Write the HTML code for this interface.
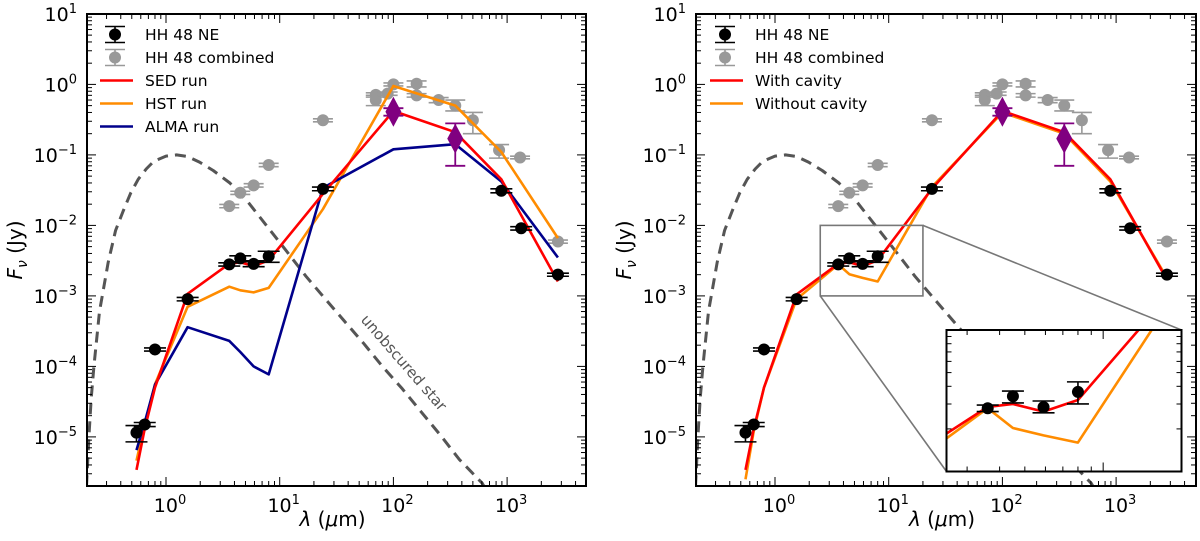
<!DOCTYPE html>
<html><head><meta charset="utf-8"><style>
html,body{margin:0;padding:0;background:#fff;width:1200px;height:541px;overflow:hidden;}
svg{display:block;font-family:"DejaVu Sans","Liberation Sans",sans-serif;overflow:hidden;}
</style></head><body>
<svg id="fig" width="1200" height="541" viewBox="0 0 1200 541" xmlns="http://www.w3.org/2000/svg"></svg>
<script>
// ---- data ----
const neLam=[0.55,0.65,0.8,1.55,3.6,4.5,5.9,8.0,24,890,1330,2800];
const neF=[1.15e-5,1.5e-5,1.74e-4,9e-4,2.8e-3,3.4e-3,2.85e-3,3.65e-3,0.033,0.031,0.0091,0.002];
const neLo=[8.5e-6,1.4e-5,1.65e-4,8.5e-4,2.65e-3,3.05e-3,2.6e-3,3.0e-3,0.031,0.029,0.0086,0.0019];
const neHi=[1.45e-5,1.6e-5,1.83e-4,9.5e-4,2.95e-3,3.7e-3,3.15e-3,4.3e-3,0.035,0.033,0.0096,0.0021];
const grLam=[3.6,4.5,5.9,8.0,24,70,70,89,100,160,160,250,350,500,850,1300,2800];
const grF=[0.0188,0.029,0.037,0.072,0.31,0.71,0.6,0.74,1.0,1.02,0.7,0.6,0.5,0.31,0.117,0.092,0.0059];
const grLo=[0.0178,0.0275,0.035,0.068,0.295,0.66,0.5,0.70,0.95,0.92,0.66,0.55,0.42,0.2,0.09,0.088,0.0056];
const grHi=[0.0198,0.0305,0.039,0.076,0.325,0.76,0.7,0.78,1.05,1.12,0.74,0.65,0.6,0.4,0.14,0.096,0.0062];
const puLam=[100,350];
const puF=[0.41,0.17];
const puLo=[0.36,0.07];
const puHi=[0.46,0.28];
const modLam=[0.55,0.65,0.8,1.55,3.6,4.5,5.9,8,24,100,350,890,2800];
const sedRun=[3.4e-6,1.3e-5,5e-5,1.07e-3,2.86e-3,3.0e-3,2.65e-3,3.2e-3,0.028,0.42,0.21,0.045,1.6e-3];
const hstRun=[4.6e-6,1.5e-5,5.6e-5,7e-4,1.35e-3,1.2e-3,1.12e-3,1.3e-3,0.017,0.95,0.5,0.11,0.0066];
const almaRun=[6.5e-6,1.6e-5,5.5e-5,3.6e-4,2.3e-4,1.6e-4,1.0e-4,7.7e-5,0.034,0.12,0.142,0.042,3.5e-3];
const withCav=[3.4e-6,1.3e-5,5e-5,1.05e-3,2.86e-3,3.0e-3,2.65e-3,3.2e-3,0.033,0.42,0.21,0.045,1.7e-3];
const withoutCav=[2.5e-6,1.2e-5,5e-5,9e-4,2.8e-3,2.03e-3,1.8e-3,1.6e-3,0.035,0.40,0.2,0.042,1.8e-3];
const starLam=[0.2,0.21,0.22,0.232,0.26,0.31,0.36,0.42,0.49,0.57,0.67,0.78,1.0,1.24,1.55,1.97,2.6,3.65,5.2,7.9,11.5,17,25,37,55,80,120,174,260,380,605,1000];
const starF=[2e-6,1e-5,3.5e-5,1e-4,6e-4,3e-3,8.5e-3,0.016,0.029,0.045,0.063,0.081,0.096,0.1,0.095,0.079,0.06,0.04,0.022,9.3e-3,4.3e-3,1.9e-3,9.2e-4,4.4e-4,2.1e-4,1e-4,4.8e-5,2.3e-5,1.05e-5,4.8e-6,2.2e-6,5e-7];
const xTickExp=[0,1,2,3];
const yTickExp=[-5,-4,-3,-2,-1,0,1];

const NS="http://www.w3.org/2000/svg";
const svg=document.getElementById('fig');
function mk(tag,attrs,parent){const e=document.createElementNS(NS,tag);for(const k in attrs)e.setAttribute(k,attrs[k]);(parent||svg).appendChild(e);return e;}

const Y0=84.4, YD=70.5, TOP=14, BOT=486;
function yS(v){return Y0-Math.log10(v)*YD;}

function drawErr(g,sx,sy,lam,f,lo,hi,color,r,cap,name){
  for(let i=0;i<lam.length;i++){
    const x=sx(lam[i]);
    const eg=mk('g',{},g);
    
    
    mk('line',{x1:x,x2:x,y1:sy(lo[i]),y2:sy(hi[i]),stroke:color,'stroke-width':1.6},eg);
    mk('line',{x1:x-cap,x2:x+cap,y1:sy(lo[i]),y2:sy(lo[i]),stroke:color,'stroke-width':1.6},eg);
    mk('line',{x1:x-cap,x2:x+cap,y1:sy(hi[i]),y2:sy(hi[i]),stroke:color,'stroke-width':1.6},eg);
    mk('circle',{cx:x,cy:sy(f[i]),r:r,fill:color},eg);
  }
}
function drawLine(g,sx,sy,lam,f,color,w,dash,name){
  const d=lam.map((l,i)=>(i?'L':'M')+sx(l).toFixed(1)+','+sy(f[i]).toFixed(1)).join('');
  const p=mk('path',{d:d,fill:'none',stroke:color,'stroke-width':w,'stroke-linejoin':'round'},g);
  if(dash)p.setAttribute('stroke-dasharray',dash);
  
  
}
function expLabel(parent,x,y,exp,anchor,name){
  const t=mk('text',{x:x,y:y,'font-size':19,'text-anchor':anchor,fill:'#000'},parent);
  
  
  t.appendChild(document.createTextNode('10'));
  const s=mk('tspan',{dy:-8,'font-size':13},t);
  s.textContent=(exp<0?'\u2212':'')+Math.abs(exp);
}

function panel(pid,X0,X1,XC,models,legend,legX,starLabel){
  const XD=113.7;
  const sx=v=>XC+Math.log10(v)*XD;
  const g=mk('g',{});
  
  
  mk('clipPath',{id:'clip-'+pid},g).appendChild(document.createElementNS(NS,'rect'));
  const cr=g.querySelector('clipPath rect');cr.setAttribute('x',X0);cr.setAttribute('y',TOP);cr.setAttribute('width',X1-X0);cr.setAttribute('height',BOT-TOP);
  const pg=mk('g',{'clip-path':'url(#clip-'+pid+')'},g);
  drawLine(pg,sx,yS,starLam,starF,'#555',3,'11,7','unobscured-star-curve');
  drawErr(pg,sx,yS,grLam,grF,grLo,grHi,'#999',6,10,'hh48-combined');
  models.forEach(m=>drawLine(pg,sx,yS,modLam,m.data,m.color,2.6,null,m.name));
  drawErr(pg,sx,yS,neLam,neF,neLo,neHi,'#000',6,11,'hh48-ne');
  for(let i=0;i<puLam.length;i++){
    const x=sx(puLam[i]),y=yS(puF[i]);
    const eg=mk('g',{},pg);
    
    
    mk('line',{x1:x,x2:x,y1:yS(puLo[i]),y2:yS(puHi[i]),stroke:'#800080','stroke-width':1.8},eg);
    [puLo[i],puHi[i]].forEach(v=>mk('line',{x1:x-10,x2:x+10,y1:yS(v),y2:yS(v),stroke:'#800080','stroke-width':1.8},eg));
    mk('path',{d:`M${x},${y-15}L${x+8},${y}L${x},${y+15}L${x-8},${y}Z`,fill:'#800080'},eg);
  }
  const fr=mk('rect',{x:X0,y:TOP,width:X1-X0,height:BOT-TOP,fill:'none',stroke:'#000','stroke-width':2},g);
  
  
  const tk=mk('g',{stroke:'#000','stroke-width':1},g);
  for(let e=-1;e<=3;e++)for(let m=1;m<10;m++){
    const x=sx(m*Math.pow(10,e)); if(x<X0+1||x>X1-1)continue;
    const L=m===1?9:5;
    mk('line',{x1:x,x2:x,y1:BOT,y2:BOT-L},tk);mk('line',{x1:x,x2:x,y1:TOP,y2:TOP+L},tk);
  }
  for(let e=-6;e<=0;e++)for(let m=1;m<10;m++){
    const y=yS(m*Math.pow(10,e)); if(y<TOP+1||y>BOT-1)continue;
    const L=m===1?9:5;
    mk('line',{x1:X0,x2:X0+L,y1:y,y2:y},tk);mk('line',{x1:X1,x2:X1-L,y1:y,y2:y},tk);
  }
  xTickExp.forEach(e=>expLabel(g,sx(Math.pow(10,e))+4,BOT+26,e,'middle','x-tick-label'));
  yTickExp.forEach(e=>expLabel(g,X0-10,yS(Math.pow(10,e))+7,e,'end','y-tick-label'));
  const xl=mk('text',{x:(X0+X1)/2-4,y:526,'font-size':20,'text-anchor':'middle'},g);
  
  xl.innerHTML='<tspan font-style="italic">λ</tspan> (<tspan font-style="italic">μ</tspan>m)';
  const yl=mk('text',{x:0,y:0,'font-size':20,'text-anchor':'middle',transform:`translate(${X0-65},250) rotate(-90)`},g);
  
  yl.innerHTML='<tspan font-style="italic">F</tspan><tspan font-style="italic" font-size="14" dy="5">ν</tspan><tspan dy="-5"> (Jy)</tspan>';
  if(starLabel){
    const sl=mk('text',{x:0,y:0,'font-size':15,fill:'#555','text-anchor':'middle',transform:`translate(400,366) rotate(49)`},g);
    
    sl.textContent='unobscured star';
  }
  const lg=mk('g',{},g);
  
  legend.forEach((it,i)=>{
    const y=34.5+i*23;
    const eg=mk('g',{},lg);
    
    
    const mx=legX+15;
    if(it.type==='pt'){
      mk('line',{x1:mx,x2:mx,y1:y-8,y2:y+8,stroke:it.color,'stroke-width':1.6},eg);
      mk('line',{x1:mx-10,x2:mx+10,y1:y-8,y2:y-8,stroke:it.color,'stroke-width':1.6},eg);
      mk('line',{x1:mx-10,x2:mx+10,y1:y+8,y2:y+8,stroke:it.color,'stroke-width':1.6},eg);
      mk('circle',{cx:mx,cy:y,r:6,fill:it.color},eg);
    } else {
      mk('line',{x1:legX,x2:legX+33,y1:y,y2:y,stroke:it.color,'stroke-width':2.6},eg);
    }
    const t=mk('text',{x:legX+45,y:y+5.5,'font-size':15.5},eg);
    t.textContent=it.label;
  });
  return {sx};
}

panel('left-panel',87,586,166,
  [{data:hstRun,color:'#ff8c00',name:'hst-run-line'},{data:almaRun,color:'#00008b',name:'alma-run-line'},{data:sedRun,color:'#ff0000',name:'sed-run-line'}],
  [{type:'pt',color:'#000',label:'HH 48 NE'},{type:'pt',color:'#999',label:'HH 48 combined'},{type:'ln',color:'#ff0000',label:'SED run'},{type:'ln',color:'#ff8c00',label:'HST run'},{type:'ln',color:'#00008b',label:'ALMA run'}],100,true);

const R=panel('right-panel',696,1196,775,
  [{data:withoutCav,color:'#ff8c00',name:'without-cavity-line'},{data:withCav,color:'#ff0000',name:'with-cavity-line'}],
  [{type:'pt',color:'#000',label:'HH 48 NE'},{type:'pt',color:'#999',label:'HH 48 combined'},{type:'ln',color:'#ff0000',label:'With cavity'},{type:'ln',color:'#ff8c00',label:'Without cavity'}],710,false);

const zx0=R.sx(2.5),zx1=R.sx(20),zy0=yS(1e-2),zy1=yS(1e-3);
const IX0=946.5,IX1=1181.5,IY0=330,IY1=471.5;
const zr=mk('rect',{x:zx0,y:zy0,width:zx1-zx0,height:zy1-zy0,fill:'none',stroke:'#777','stroke-width':1.6});

const c1=mk('line',{x1:zx1,y1:zy0,x2:IX1,y2:IY0,stroke:'#777','stroke-width':1.6});

const c2=mk('line',{x1:zx0,y1:zy1,x2:IX0,y2:IY1,stroke:'#777','stroke-width':1.6});

const ig=mk('g',{});

mk('rect',{x:IX0,y:IY0,width:IX1-IX0,height:IY1-IY0,fill:'#fff'},ig);
const ix=v=>IX0+Math.log10(v/2.5)/Math.log10(8)*(IX1-IX0);
const iy=v=>IY1-Math.log10(v/1e-3)*(IY1-IY0);
mk('clipPath',{id:'clip-inset'},ig).appendChild(document.createElementNS(NS,'rect'));
const icr=ig.querySelector('clipPath rect');icr.setAttribute('x',IX0);icr.setAttribute('y',IY0);icr.setAttribute('width',IX1-IX0);icr.setAttribute('height',IY1-IY0);
const ipg=mk('g',{'clip-path':'url(#clip-inset)'},ig);
drawLine(ipg,ix,iy,modLam,withoutCav,'#ff8c00',2.6,null,'inset-without-cavity-line');
drawLine(ipg,ix,iy,modLam,withCav,'#ff0000',2.6,null,'inset-with-cavity-line');
drawErr(ipg,ix,iy,neLam,neF,neLo,neHi,'#000',6,11,'inset-hh48-ne');
const itk=mk('g',{stroke:'#000','stroke-width':1},ig);
for(let m=3;m<=20;m+=(m<10?1:10)){const x=ix(m);mk('line',{x1:x,x2:x,y1:IY1,y2:IY1-(m===10?9:5)},itk);mk('line',{x1:x,x2:x,y1:IY0,y2:IY0+(m===10?9:5)},itk);}
for(let m=2;m<10;m++){const y=iy(m*1e-3);mk('line',{x1:IX0,x2:IX0+5,y1:y,y2:y},itk);mk('line',{x1:IX1,x2:IX1-5,y1:y,y2:y},itk);}
mk('rect',{x:IX0,y:IY0,width:IX1-IX0,height:IY1-IY0,fill:'none',stroke:'#000','stroke-width':2},ig);
</script>
</body></html>
